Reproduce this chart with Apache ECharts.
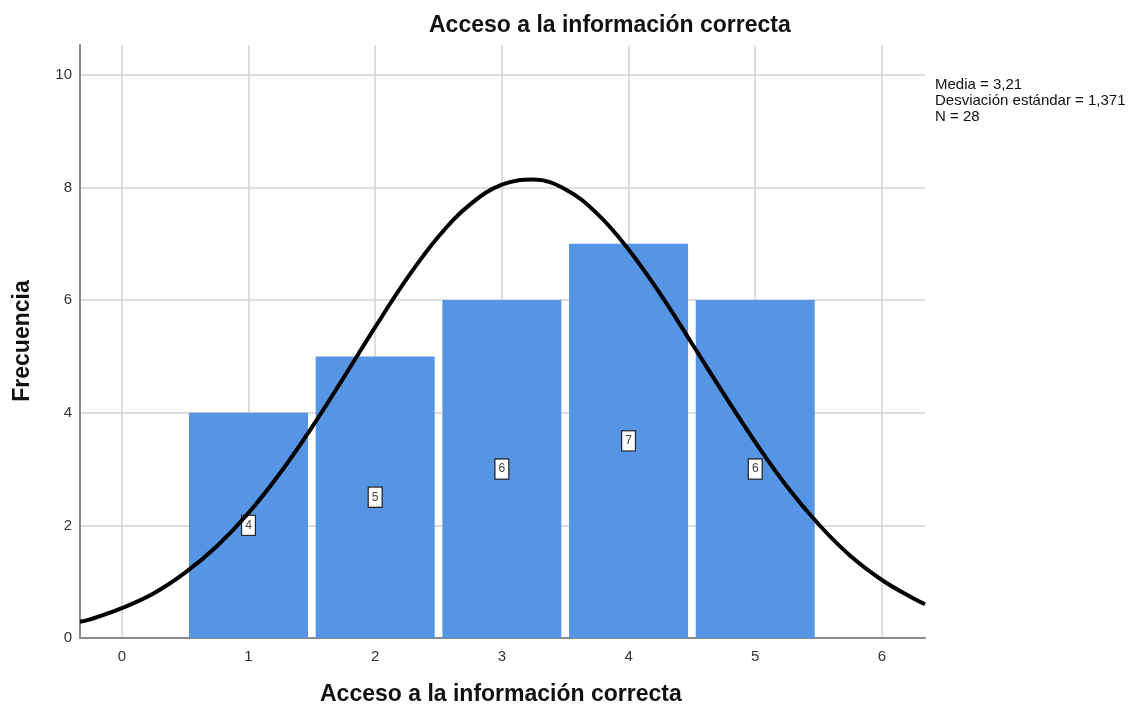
<!DOCTYPE html>
<html><head><meta charset="utf-8">
<script src="https://cdn.jsdelivr.net/npm/echarts@6/dist/echarts.min.js"></script>
<style>html,body{margin:0;padding:0;background:#fff}#c{width:1139px;height:709px}</style>
</head><body><div id="c"></div>
<script>
const chartTitle = 'Acceso a la información correcta';
const xAxisTitle = 'Acceso a la información correcta';
const yAxisTitle = 'Frecuencia';
const categories = [1, 2, 3, 4, 5];
const frequencies = [4, 5, 6, 7, 6];
const xTicks = [0, 1, 2, 3, 4, 5, 6];
const yTicks = [0, 2, 4, 6, 8, 10];
const curveX = [-0.33, -0.25, 0, 0.25, 0.5, 0.75, 1, 1.25, 1.5, 1.75, 2, 2.25, 2.5, 2.75, 3, 3.25, 3.5, 3.75, 4, 4.25, 4.5, 4.75, 5, 5.25, 5.5, 5.75, 6, 6.25, 6.34];
const curveY = [0.29, 0.33, 0.53, 0.79, 1.16, 1.63, 2.22, 2.93, 3.74, 4.62, 5.52, 6.38, 7.13, 7.70, 8.05, 8.14, 7.97, 7.54, 6.90, 6.11, 5.23, 4.34, 3.48, 2.69, 2.02, 1.46, 1.03, 0.70, 0.60];
const statsLines = ['Media = 3,21', 'Desviación estándar = 1,371', 'N = 28'];

const FONT = '"Liberation Sans", Arial, sans-serif';
const chart = echarts.init(document.getElementById('c'));

const gridLines = xTicks.map(v => ({ xAxis: v }))
  .concat(yTicks.filter(v => v > 0).map(v => ({ yAxis: v })));

chart.setOption({
  animation: false,
  backgroundColor: '#fff',
  grid: { left: 80, top: 45, width: 845, height: 593 },
  xAxis: {
    type: 'value', min: -0.33, max: 6.34,
    axisLine: { show: true, onZero: false, lineStyle: { color: '#8a8a8a', width: 2 } },
    axisTick: { show: false },
    splitLine: { show: false },
    axisLabel: { customValues: xTicks, color: '#333', fontSize: 15, fontFamily: 'Liberation Sans', margin: 11 }
  },
  yAxis: {
    type: 'value', min: 0, max: 10.53,
    axisLine: { show: true, onZero: false, lineStyle: { color: '#8a8a8a', width: 2 } },
    axisTick: { show: false },
    splitLine: { show: false },
    axisLabel: { customValues: yTicks, color: '#333', fontSize: 15, fontFamily: 'Liberation Sans', margin: 8 }
  },
  series: [
    {
      type: 'line', data: [[0, 0]], showSymbol: false, lineStyle: { opacity: 0 }, z: 0, silent: true,
      markLine: {
        z: 0, silent: true, symbol: ['none', 'none'], label: { show: false },
        lineStyle: { color: '#d2d2d2', width: 1.5, type: 'solid' },
        data: gridLines
      }
    },
    {
      type: 'bar', barWidth: 119, z: 2,
      data: categories.map((c, i) => [c, frequencies[i]]),
      itemStyle: { color: '#5694e4' },
      label: {
        show: true, position: 'inside',
        formatter: p => String(p.value[1]),
        color: '#444', fontSize: 12, fontFamily: 'Liberation Sans',
        backgroundColor: '#fff', borderColor: '#222', borderWidth: 1.2,
        padding: [4, 3, 3, 3]
      }
    },
    {
      type: 'line', smooth: 0.4, showSymbol: false, z: 3,
      data: curveX.map((x, i) => [x, curveY[i]]),
      lineStyle: { color: '#000', width: 4 }
    }
  ],
  graphic: [
    { type: 'text', left: 429, top: 14, style: { text: chartTitle, font: 'bold 23px ' + FONT, fill: '#111' } },
    { type: 'text', left: 320, top: 683, style: { text: xAxisTitle, font: 'bold 23px ' + FONT, fill: '#111' } },
    { type: 'text', x: 11, y: 341, rotation: Math.PI / 2, style: { text: yAxisTitle, font: 'bold 23px ' + FONT, fill: '#111', align: 'center', verticalAlign: 'top' } },
    { type: 'text', left: 935, top: 77, style: { text: statsLines.join('\n'), font: '15px ' + FONT, lineHeight: 16, fill: '#111' } }
  ]
});
</script></body></html>
